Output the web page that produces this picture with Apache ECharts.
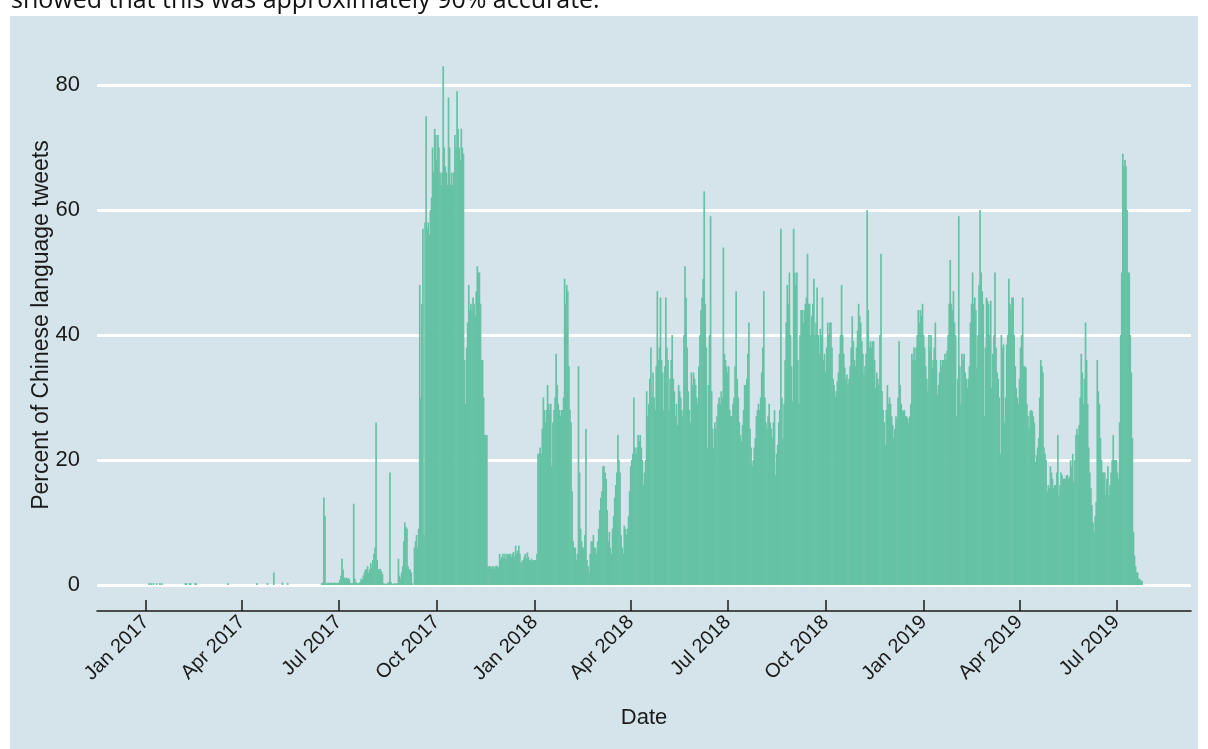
<!DOCTYPE html>
<html>
<head>
<meta charset="utf-8">
<script src="https://cdn.jsdelivr.net/npm/echarts@6/dist/echarts.min.js"></script>
<style>
html,body{margin:0;padding:0;background:#ffffff;}
#chart{width:1208px;height:749px;}
</style>
</head>
<body>
<div id="chart"></div>
<script>
// ---------- axis ticks ----------
const tickDates = ['2017-01-01','2017-04-01','2017-07-01','2017-10-01','2018-01-01','2018-04-01','2018-07-01','2018-10-01','2019-01-01','2019-04-01','2019-07-01'];
const tickLabels = ['Jan 2017','Apr 2017','Jul 2017','Oct 2017','Jan 2018','Apr 2018','Jul 2018','Oct 2018','Jan 2019','Apr 2019','Jul 2019'];
const yTickValues = [0, 20, 40, 60, 80];
const axisStartDate = '2016-11-16';
const axisEndDate = '2019-09-09';

// ---------- data: percent of Chinese language tweets per day ----------
const sparseEarly2017 = [
  ['2017-01-04',0.3],['2017-01-06',0.3],['2017-01-08',0.3],['2017-01-11',0.3],['2017-01-14',0.3],['2017-01-16',0.3],
  ['2017-02-07',0.3],['2017-02-08',0.3],['2017-02-11',0.3],['2017-02-12',0.3],['2017-02-16',0.3],['2017-02-17',0.3],
  ['2017-03-19',0.3],['2017-04-15',0.3],['2017-04-25',0.3],['2017-05-01',2.0],['2017-05-09',0.4],['2017-05-14',0.3]
];
// daily from 2017-06-15
const vals2017JunToSep9 = [
  0.3,0.4,14,11,0.3,0.3,0.4,0.3,0.3,0.4,
  0.3,0.3,0.4,0.3,0.3,0.4,0.3,0.8,1.5,4.2,
  2.5,1.2,1.0,1.2,1.0,1.1,0.9,0.3,0.3,0.3,
  13,1.0,0.5,0.3,0.3,0.3,0.5,1.0,0.8,1.5,
  2.0,2.5,2.5,3.0,2.0,2.5,3.5,2.8,4.0,5.0,
  6,26,4,2.5,2.5,2.6,2.2,1.8,0.3,0.2,
  0.2,0.2,0.3,0.5,18,0.5,0.2,0.2,0.2,0.3,
  0.2,0.3,4.2,1.5,1.0,2.0,3.0,7,10,9.3,
  9,3,2.5,2.5,2,0.3
];
// daily from 2017-09-10
const vals2017Sep = [6,7,8,6,9,48,30,45,57,8,58,75,57,58,56,60,62,70,66,73,72];
// daily from 2017-10-01
const vals2017Q4 = [
  68,72,70,66,64,66,83,70,67,66,64,78,70,64,66,64,66,72,70,79,73,70,68,73,70,69,36,29,38,42,48,
  44,45,44,46,45,43,47,51,50,50,45,36,36,30,24,24,24,3,3,3,2.6,3,3,2.6,3,3.1,3,2.8,5,4,
  4.5,5,4.2,5,4.2,5,4.8,5,5,4.5,5,5.3,4.5,6.3,5,5.5,6.3,5,3.5,3.8,4,4.5,5,4.2,5.2,4.5,4,4,4.2,3.8,4
];
// daily from 2018-01-01
const vals2018Q1 = [
  4,4,5,21,21,22,21,25,30,28,26,28,32,29,28,29,19,26,28,30,37,32,29,28,27,28,28,30,49,45,48,
  47,35,28,26,15,7,6,6,4,5,35,18,9,7,6,6,8,25,4,3,2,5,7,7,8,6,6,5,
  7,9,12,14,15,19,19,18,17,12,7,8.5,6,5,9,11,14,16,18,24,20,18,8,6,5,9.5,9,8,9,11,15
];
// daily from 2018-04-01
const vals2018Q2 = [
  19,20,21,30,22,21,22,24,23,24,22,20,16,18,20,31,27,29,33,38,30,34,30,28,35,47,36,38,46,36,
  34,28,35,46,38,36,28,33,36,40,33,31,27,29,25.6,32,31,30,28,27,40,51,46,38,31,28,26,34,32,34,33,
  32,30,29,35,40,44,46,49,63,45,38,22,32,40,59,31,25,22,26,25,27,29,30,29,31,30,54,37,36,35
];
// daily from 2018-07-01
const vals2018Q3 = [
  34,35,28,27,27,29,30,35,47,33,30,26,24,23,25.6,28,32,32,33,37,42,25,22,19,20,22,23.5,27,28,29,28,
  30,34,38,47,30,26,25,27,29,26,25,23.5,26,28,17.6,21,22.4,26,28,57,30,23.5,29,36,42,48,45,50,40,35,29.4,
  57,50,48,50,36,29,40,44,44,42,44,45,46,53,45,45,40,43,45,49,40,42,47.6,40,37,41,40,46,36,37
];
// daily from 2018-10-01
const vals2018Q4 = [
  34,38,42,40,42,42,38,33,32,30,31,32.6,34,37,40,48,40,37,34.8,33,33.7,32,33,35,38,43,39,36,35,38,40.7,
  45,43,42,39,37,33.7,35,37,60,44,38,39,38,39,39,36,31.5,34,33,32,40,53,31,28,26,22.4,28,32,29,30,
  29,27,25.6,23.5,25,27,26.7,30,39,32,29,28,27.8,28,27,27,26.7,26,27,29,37,36,38,36,38,40,44,42,44,43,45
];
// daily from 2019-01-01
const vals2019Q1 = [
  40,38,35,33,31,40,38,40,34.8,36,38,42,36,30.5,32,34,36,35,36,36,37,36,37.5,40,45,52,45,44,47,42,40,
  27,33,59,35,29,37,36,37,34,33,31.5,33,35,42,45,50,45,46,44,34.8,40,48,60,50,47,45,27,38,
  46,45.5,45,40,45.5,31.5,37,40,50,38,34,33,30,21,40,38,38.5,26,30,38.5,40,49,45,44,46,46,40,35,31.5,30,29
];
// daily from 2019-04-01
const vals2019Q2 = [
  33,38,40,46,35,35,34.8,29,27,25,27.8,28,27.8,27,26,19.7,20.8,22,23.5,30,36,35,34,22,21,20,15,16,15.5,19,
  18,17,15.5,16,16,18,24,14.4,16,18,17.6,17,17,17,17.5,17.6,17,17.3,20,19,21,16.5,20,24,25,24,25.6,30,37,34,29,
  33,42,36,29,22,18,15.5,12.8,10,8.5,11,13.3,36,31,29,23.5,20,18,18,18,14.4,17,19,14.4,16,18,20,24,20,20
];
// daily from 2019-07-01
const vals2019Jul = [20,18,17,26,40,50,69,67,68,67,60,50,50,40,34,23.5,8.5,4.7,3,2,2,1,1,0.7,0.7];

const dailySegments = [
  ['2017-06-15', vals2017JunToSep9],
  ['2017-09-10', vals2017Sep],
  ['2017-10-01', vals2017Q4],
  ['2018-01-01', vals2018Q1],
  ['2018-04-01', vals2018Q2],
  ['2018-07-01', vals2018Q3],
  ['2018-10-01', vals2018Q4],
  ['2019-01-01', vals2019Q1],
  ['2019-04-01', vals2019Q2],
  ['2019-07-01', vals2019Jul]
];

// ---------- build ----------
const ORIGIN = Date.UTC(2017, 0, 1);
function dayNum(s) {
  const p = s.split('-').map(Number);
  return Math.round((Date.UTC(p[0], p[1] - 1, p[2]) - ORIGIN) / 86400000);
}
const barData = [];
sparseEarly2017.forEach(function (d) { barData.push([dayNum(d[0]), d[1]]); });
dailySegments.forEach(function (seg) {
  const s = dayNum(seg[0]);
  seg[1].forEach(function (v, i) { barData.push([s + i, v]); });
});
const tickDays = tickDates.map(dayNum);

const TEXT = '#1a1a1a';
const FONT = 'Liberation Sans, Arial, sans-serif';

const chart = echarts.init(document.getElementById('chart'), null, { renderer: 'canvas' });
chart.setOption({
  animation: false,
  backgroundColor: '#d5e4ea',
  textStyle: { fontFamily: FONT },
  graphic: [
    { type: 'rect', shape: { x: 0, y: 0, width: 1208, height: 16 }, style: { fill: '#ffffff' }, z: 10 },
    { type: 'rect', shape: { x: 0, y: 0, width: 10, height: 749 }, style: { fill: '#ffffff' }, z: 10 },
    { type: 'rect', shape: { x: 1198, y: 0, width: 10, height: 749 }, style: { fill: '#ffffff' }, z: 10 },
    { type: 'text', x: 11, y: 1, z: 11,
      style: { text: 'showed that this was approximately 90% accurate.', font: '25px "Open Sans", sans-serif',
               fill: '#111111', verticalAlign: 'middle', align: 'left' } }
  ],
  grid: { left: 97, right: 17, top: 85, bottom: 164, containLabel: false },
  xAxis: {
    type: 'value',
    min: dayNum(axisStartDate),
    max: dayNum(axisEndDate),
    offset: 26,
    name: 'Date',
    nameLocation: 'middle',
    nameGap: 96,
    nameMoveOverlap: false,
    nameTextStyle: { fontSize: 22, color: TEXT, fontFamily: FONT },
    axisLine: { show: true, onZero: false, lineStyle: { color: TEXT, width: 1.5 } },
    axisTick: { show: true, inside: true, length: 11, customValues: tickDays, lineStyle: { color: TEXT, width: 1.5 } },
    axisLabel: {
      show: true, rotate: 45, fontSize: 20, color: TEXT, fontFamily: FONT, margin: 8,
      customValues: tickDays,
      formatter: function (v) { const i = tickDays.indexOf(Math.round(v)); return i >= 0 ? tickLabels[i] : ''; }
    },
    splitLine: { show: false }
  },
  yAxis: {
    type: 'value',
    min: yTickValues[0],
    max: yTickValues[yTickValues.length - 1],
    interval: 20,
    name: 'Percent of Chinese language tweets',
    nameLocation: 'middle',
    nameGap: 44,
    nameMoveOverlap: false,
    nameTextStyle: { fontSize: 23, color: TEXT, fontFamily: FONT, padding: [0, 0, 0, 20] },
    axisLine: { show: false },
    axisTick: { show: false },
    axisLabel: { fontSize: 22, color: TEXT, margin: 17, fontFamily: FONT },
    splitLine: { show: true, lineStyle: { color: '#ffffff', width: 3 } }
  },
  series: [{
    type: 'bar',
    data: barData,
    barWidth: 1.7,
    clip: false,
    itemStyle: { color: '#66c2a5' },
    emphasis: { disabled: true },
    silent: true
  }]
});
</script>
</body>
</html>
